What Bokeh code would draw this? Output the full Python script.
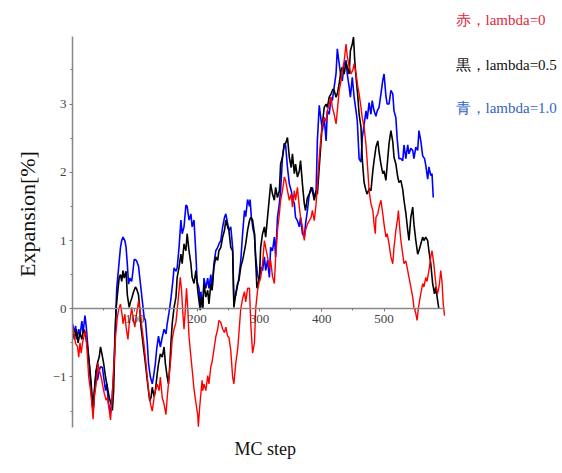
from bokeh.plotting import figure
from bokeh.models import Range1d, FixedTicker, Title
from bokeh.core.properties import value
from bokeh.embed import file_html
from bokeh.resources import INLINE

# ---- data ----
BLUE_STEPS = [0,3,5,7,10,12,15,17,20,22,25,28,31,33,35,38,40,43,45,48,50,53,55,58,61,63,66,69,71,74,77,79,81,84,86,88,90,92,95,97,99,101,103,106,109,112,115,117,120,122,125,128,130,133,135,138,141,144,147,150,152,155,158,161,163,166,168,171,174,176,179,182,184,187,190,192,195,198,200,203,205,206,209,211,214,217,219,222,224,227,230,233,235,238,241,244,246,249,251,254,257,259,262,265,267,270,273,276,278,281,284,285,287,290,292,294,297,300,302,305,308,310,313,316,318,321,324,326,329,332,334,337,340,342,345,348,351,353,356,358,361,364,366,369,372,374,377,380,383,385,388,391,393,396,399,401,404,407,409,412,415,417,420,423,425,428,431,433,436,439,441,444,446,449,452,455,457,460,463,465,468,471,473,476,479,481,484,487,489,492,495,498,500,503,505,508,511,514,516,519,521,524,527,530,532,535,538,540,543,546,548,551,554,556,559,562,565,567,570,572,575,577,579]
BLUE_VALUES = [-0.22,-0.35,-0.25,-0.45,-0.3,-0.4,-0.18,-0.35,-0.1,-0.25,-0.6,-0.95,-1.3,-1.52,-1.25,-0.9,-1.05,-0.9,-0.85,-0.86,-1.0,-1.2,-1.1,-1.4,-1.52,-1.4,-0.95,-0.2,0.3,0.6,0.9,1.0,1.05,1.0,0.9,0.65,0.36,0.45,0.4,0.55,0.72,0.72,0.7,0.62,0.37,0.12,-0.13,-0.17,-0.5,-0.8,-1.0,-1.1,-1.0,-0.8,-0.6,-0.4,-0.56,-0.42,-0.3,-0.37,-0.22,-0.05,0.15,0.4,0.6,0.55,0.6,0.9,1.3,1.1,1.2,1.52,1.5,1.3,1.39,1.2,1.3,0.8,0.4,0.3,0.05,0.25,0.0,0.45,0.3,0.45,0.3,0.5,0.3,0.66,0.85,0.9,0.95,1.0,1.2,1.34,1.39,1.25,1.15,1.2,0.9,0.12,0.2,0.35,0.45,0.7,1.1,1.44,1.35,1.6,1.5,1.6,1.35,1.15,1.1,0.76,0.5,0.4,0.61,0.56,0.76,0.56,0.71,0.46,0.9,0.85,1.05,0.76,1.34,1.54,1.73,2.22,2.42,2.4,2.07,1.83,1.73,1.63,1.54,1.34,1.29,1.2,1.34,1.1,1.05,1.24,1.44,1.68,1.73,1.78,1.63,1.73,2.46,2.98,2.76,2.61,2.8,2.46,2.9,2.85,3.1,3.05,3.25,3.45,3.81,3.59,3.39,3.34,3.59,3.64,3.44,3.25,3.1,3.39,3.1,2.9,2.76,2.2,2.15,2.5,2.7,2.9,2.78,3.02,2.85,3.05,2.9,2.82,2.9,2.95,3.15,3.35,3.44,3.12,3.0,3.0,3.2,3.15,2.9,2.8,2.5,2.2,2.2,2.17,2.4,2.2,2.4,2.27,2.35,2.32,2.2,2.37,2.32,2.61,2.46,2.24,2.2,2.1,1.9,2.08,1.95,1.98,1.63]

BLACK_STEPS = [0,3,6,9,12,15,18,21,24,27,30,33,35,38,40,43,45,47,50,53,56,59,62,64,66,68,70,72,75,77,79,81,83,86,88,91,93,95,98,101,103,106,108,110,113,115,117,120,122,124,126,128,131,133,136,138,141,144,147,149,152,154,156,158,160,163,166,168,171,174,176,179,182,184,187,190,192,195,198,201,203,205,207,209,211,214,217,219,222,224,227,230,233,235,238,241,244,246,249,251,254,257,259,262,265,267,270,273,276,278,281,284,286,289,292,294,296,298,300,302,305,308,310,313,316,318,321,324,326,329,332,334,337,340,342,345,348,351,353,356,358,361,364,366,369,372,374,377,380,383,385,388,391,393,396,399,401,404,407,409,412,415,418,420,423,425,428,431,433,436,439,441,444,446,449,451,453,455,458,460,463,465,468,471,473,476,479,482,484,487,490,492,495,498,500,503,505,508,511,514,516,519,522,524,527,530,532,535,538,540,543,546,548,551,554,556,559,562,564,567,570,572,575,578,581,583,586,588]
BLACK_VALUES = [-0.3,-0.45,-0.3,-0.5,-0.35,-0.45,-0.3,-0.4,-0.55,-0.8,-1.1,-1.5,-1.2,-0.9,-0.8,-0.7,-0.56,-0.65,-0.8,-1.0,-1.15,-1.3,-1.4,-1.49,-1.2,-0.5,0.0,0.2,0.46,0.5,0.4,0.56,0.45,0.55,0.2,0.02,0.1,0.15,0.25,0.32,0.29,0.2,0.0,-0.27,-0.5,-0.65,-0.8,-1.05,-1.2,-1.35,-1.3,-1.15,-1.29,-1.2,-0.95,-0.81,-0.66,-0.71,-0.56,-0.8,-1.0,-1.1,-0.85,-0.5,-0.22,0.02,0.17,0.46,0.61,0.8,0.66,0.95,0.85,1.1,0.85,0.66,0.46,0.37,0.56,0.27,0.12,-0.02,0.17,0.02,0.37,0.17,0.27,0.07,0.37,0.27,0.61,0.76,0.71,0.85,0.9,1.05,1.15,1.3,1.2,1.15,0.9,0.85,0.02,0.22,0.37,0.41,0.61,0.71,0.85,0.95,1.15,1.29,1.34,1.3,1.1,0.7,0.3,0.37,0.46,0.9,1.1,1.2,1.05,1.34,1.63,1.83,1.68,1.59,1.78,1.63,1.73,2.12,2.22,2.42,2.42,2.51,2.22,2.07,2.27,1.98,2.12,1.93,2.02,2.17,1.83,1.54,1.44,1.63,1.68,1.78,1.73,1.59,1.73,1.68,2.07,2.46,2.71,2.95,3.0,2.95,3.1,3.15,3.22,3.2,3.1,3.15,3.3,3.49,3.54,3.44,3.61,3.54,3.44,3.78,3.88,3.98,3.63,3.4,3.1,2.85,2.66,2.2,1.85,1.73,1.68,1.76,1.73,2.02,2.17,2.37,2.46,2.3,2.12,1.98,2.02,1.88,2.1,2.42,2.61,2.45,2.22,2.12,1.93,1.85,1.88,1.75,1.59,1.4,1.15,1.0,1.34,1.49,1.24,1.0,0.8,0.85,0.95,1.05,1.0,1.05,1.0,0.85,0.66,0.37,0.22,0.32,0.12,0.0]

RED_STEPS = [0,3,5,8,10,12,14,16,18,21,24,26,29,32,33,35,38,41,43,46,49,51,54,56,59,61,63,66,69,72,74,77,80,81,84,86,89,91,93,95,97,100,102,105,106,109,112,114,117,120,122,125,128,131,133,136,139,141,144,147,150,152,155,158,160,163,166,168,171,173,175,177,179,181,183,185,187,190,193,195,198,201,202,204,206,208,209,211,214,217,219,222,224,227,230,233,235,238,241,244,246,249,251,254,257,259,262,265,267,270,273,276,278,281,284,286,289,292,294,297,300,302,305,308,310,313,316,318,321,324,326,329,332,334,337,340,342,345,348,351,353,356,358,361,364,366,369,372,374,377,380,383,385,388,391,393,396,399,401,404,407,409,412,415,417,420,423,425,428,431,433,436,439,441,444,447,450,452,455,458,460,463,465,468,471,474,476,479,482,484,486,487,490,492,495,498,500,503,505,508,511,514,516,519,522,523,525,527,530,532,535,538,540,543,546,548,551,553,555,557,559,562,564,567,569,572,575,577,580,582,584,586,589,591,593,595,597]
RED_VALUES = [-0.27,-0.4,-0.51,-0.55,-0.71,-0.5,-0.65,-0.5,-0.42,-0.32,-0.7,-1.0,-1.2,-1.49,-1.62,-1.3,-1.1,-0.8,-0.9,-1.0,-1.15,-1.24,-1.34,-1.3,-1.49,-1.63,-1.4,-0.9,-0.42,-0.12,-0.02,0.07,-0.12,-0.22,-0.08,-0.27,-0.45,-0.22,-0.12,0.02,-0.12,-0.27,-0.12,0.05,0.12,-0.08,-0.32,-0.46,-0.71,-1.0,-1.2,-1.39,-1.5,-1.3,-1.2,-1.1,-1.2,-1.0,-1.3,-1.4,-1.55,-1.3,-1.0,-0.71,-0.45,-0.3,-0.2,-0.02,0.27,0.46,0.27,-0.05,-0.3,-0.02,0.3,0.0,-0.41,-0.7,-0.98,-1.18,-1.37,-1.56,-1.73,-1.45,-1.25,-1.05,-1.2,-1.1,-1.2,-0.98,-1.1,-0.85,-0.78,-0.6,-0.41,-0.3,-0.17,-0.2,-0.3,-0.35,-0.27,-0.4,-0.42,-0.61,-1.0,-1.1,-0.8,-0.6,-0.37,0.0,0.15,0.25,0.1,0.3,0.3,-0.2,-0.65,-0.5,0.0,0.27,0.41,0.45,0.66,1.0,0.9,0.76,0.6,0.71,0.47,0.37,0.75,1.15,1.39,1.59,1.73,1.93,1.88,1.73,1.59,1.68,1.49,1.73,1.59,1.78,1.49,1.34,1.2,1.0,1.15,1.24,1.29,1.34,1.44,1.29,1.54,1.83,2.22,2.55,2.7,2.8,2.75,2.9,3.0,3.1,2.95,2.85,2.71,2.9,3.2,3.34,3.49,3.63,3.88,3.7,3.55,3.44,3.5,3.59,3.45,3.25,3.15,2.95,2.8,2.66,2.41,2.02,1.73,1.54,1.44,1.24,1.1,1.34,1.39,1.49,1.59,1.39,1.24,1.05,1.1,0.95,0.76,0.66,0.9,1.15,1.34,1.44,1.2,1.0,0.8,0.66,0.7,0.56,0.46,0.32,0.17,0.02,-0.07,-0.17,0.0,0.12,0.22,0.37,0.32,0.46,0.4,0.56,0.76,0.85,0.65,0.46,0.3,0.22,0.37,0.56,0.4,0.07,-0.1]

X_MAJOR_TICKS = [100, 200, 300, 400, 500]
X_MINOR_TICKS = [50, 150, 250, 350, 450, 550]
Y_MAJOR_TICKS = [-1, 0, 1, 2, 3]
Y_MINOR_TICKS = [-1.5, -0.5, 0.5, 1.5, 2.5, 3.5]
X_AXIS_SPAN = (0, 597)
Y_AXIS_SPAN = (-1.74, 3.99)

LEGEND_TEXTS = ["赤，lambda=0", "黒，lambda=0.5", "青，lambda=1.0"]
LEGEND_COLORS = ["#e0283c", "#111111", "#3463c0"]

SERIF = "Liberation Serif"

# frame spans to the right and top edges so the side texts can live inside it;
# the axis lines are limited to the data span with `bounds`
p = figure(width=562, height=473, output_backend="svg", toolbar_location=None,
           x_range=Range1d(0, 786.4), y_range=Range1d(-1.74, 4.517),
           min_border_left=72, min_border_right=0, min_border_top=0, min_border_bottom=46)
p.outline_line_color = None
p.grid.visible = False
p.background_fill_color = "white"
p.border_fill_color = "white"

xa = p.xaxis[0]
xa.fixed_location = 0
xa.bounds = X_AXIS_SPAN
xa.ticker = FixedTicker(ticks=X_MAJOR_TICKS, minor_ticks=X_MINOR_TICKS)
ya = p.yaxis[0]
ya.bounds = Y_AXIS_SPAN
ya.ticker = FixedTicker(ticks=Y_MAJOR_TICKS, minor_ticks=Y_MINOR_TICKS)
ya.major_label_overrides = {-1: "\u22121"}
ya.axis_label = "Expansion[%]"
ya.axis_label_text_font = SERIF
ya.axis_label_text_font_size = "22px"
ya.axis_label_text_font_style = "normal"
ya.axis_label_text_color = "#111111"
ya.axis_label_standoff = 10

for ax in (xa, ya):
    ax.axis_line_color = "#888888"
    ax.axis_line_width = 1.5
    ax.major_tick_line_color = "#777777"
    ax.minor_tick_line_color = "#777777"
    ax.major_tick_in = 0
    ax.major_tick_out = 3
    ax.minor_tick_in = 0
    ax.minor_tick_out = 2
    ax.major_label_text_font = SERIF
    ax.major_label_text_font_size = "13px"
    ax.major_label_text_color = "#444444"
    ax.major_label_standoff = 3

p.line(BLUE_STEPS, BLUE_VALUES, line_color="#0000ff", line_width=1.6)
p.line(BLACK_STEPS, BLACK_VALUES, line_color="#000000", line_width=1.6)
p.line(RED_STEPS, RED_VALUES, line_color="#ff0000", line_width=1.4)

p.add_layout(Title(text="MC step", text_font=SERIF, text_font_size="18px",
                   text_font_style="normal", text_color="#111111",
                   align="left", offset=162, standoff=18), "below")

# side texts as a text glyph, placed in the empty upper-right part of the frame
p.text(x=[614.7, 614.7, 614.7], y=[4.224, 3.565, 2.935], text=LEGEND_TEXTS,
       text_color=LEGEND_COLORS, text_font=value(SERIF), text_font_size="15px",
       text_align="left", text_baseline="middle")

open("out.html", "w").write(file_html(p, INLINE))
